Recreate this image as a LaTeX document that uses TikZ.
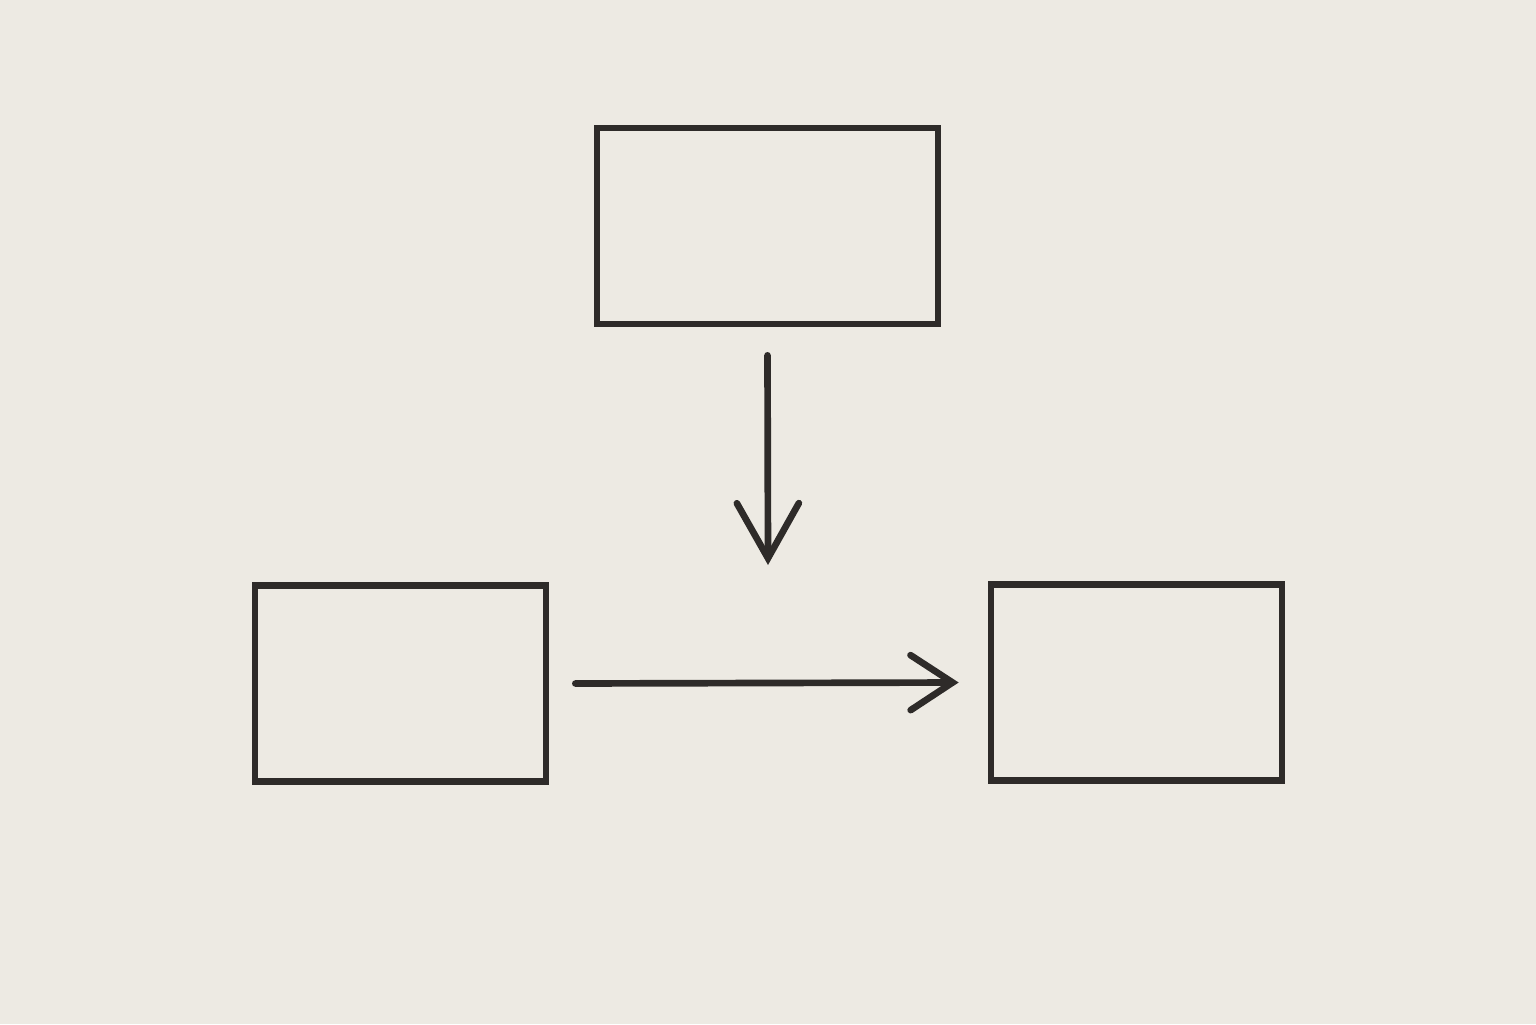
\documentclass[tikz,border=0pt]{standalone}
\usepackage{tikz}
\usetikzlibrary{arrows.meta,positioning}

\definecolor{paper}{HTML}{EDEAE3}
\definecolor{pencil}{HTML}{2E2B29}

\begin{document}
\begin{tikzpicture}[>={Straight Barb[length=5.5mm,width=6.2mm,line cap=round]}, node distance=2cm, on grid,
    box/.style={draw=pencil, line width=1.9pt, minimum width=2.91cm, minimum height=1.96cm, inner sep=0pt},
    link/.style={draw=pencil, line width=1.9pt, line cap=round}]
   \fill[paper] (0,0) rectangle (15.36,10.24);
   \node[box, minimum width=3.41cm] (top)   at (7.675,7.98)             {};
   \node[box]                       (left)  [below left=4.575cm and 3.67cm of top]  {};
   \node[box]                       (right) [below right=4.565cm and 3.69cm of top] {};
   \coordinate (drop) at (7.68,4.59);
   \draw[link,->] ([yshift=-2.8mm]top.south) -- (drop);
   \draw[link,-{Straight Barb[length=4.2mm,width=5.5mm,line cap=round]}]
    ([xshift=2.6mm]left.east) -- ([xshift=-2.9mm]right.west);
\end{tikzpicture}
\end{document}
